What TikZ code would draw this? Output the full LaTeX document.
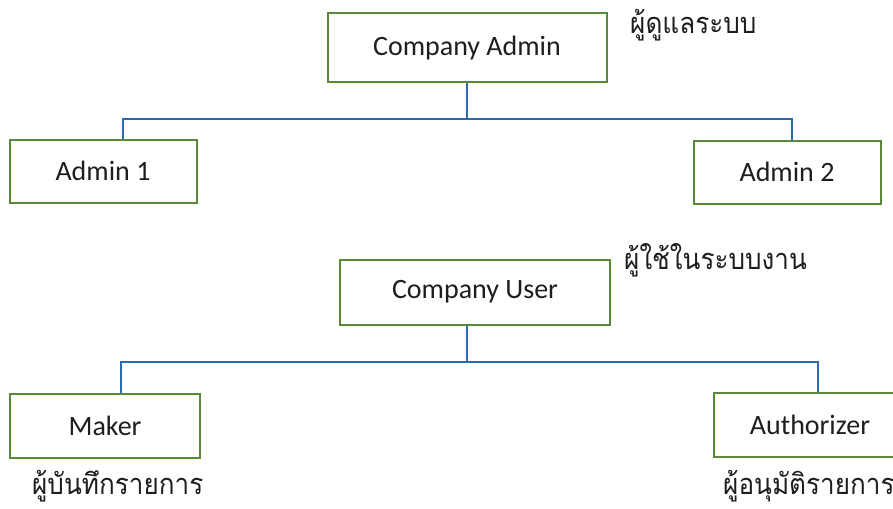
\documentclass[tikz,border=0pt]{standalone}
\usepackage{fontspec}
\setmainfont{Carlito}
\newfontfamily\thaifont[Script=Thai, FakeStretch=0.9]{Loma}
\usetikzlibrary{positioning}
\definecolor{boxgreen}{RGB}{88,138,58}
\definecolor{linkblue}{RGB}{45,105,175}
\definecolor{inkgray}{RGB}{30,30,30}

\begin{document}
\begin{tikzpicture}[x=1pt, y=-1pt,
  role/.style={rectangle, draw=boxgreen, line width=2pt, fill=white, inner sep=0pt, text=inkgray, font=\fontsize{28}{32}\selectfont},
  thai/.style={inner sep=0pt, anchor=base west, text=inkgray, font=\thaifont\fontsize{29}{33}\selectfont},
  conn/.style={draw=linkblue, line width=1.2pt}
]
\clip (0,0) rectangle (893,508);
\fill[white] (0,0) rectangle (893,508);

% admin group
\node[role, minimum width=279pt, minimum height=69pt] (cadmin) at (467,48) {Company Admin};
\node[role, minimum width=187pt, minimum height=63pt] (adm1) at (103,171) {Admin 1};
\node[role, minimum width=187pt, minimum height=63pt] (adm2) at (787,172) {Admin 2};
\node[thai] (tadmin) at (630,34) {ผู้ดูแลระบบ};

% user group
\node[role, minimum width=270pt, minimum height=65pt] (cuser) at (475,292) {Company User};
\node[role, minimum width=190pt, minimum height=64pt] (maker) at (105,426) {Maker};
\node[role, minimum width=192pt, minimum height=64pt] (auth) at (810,425) {Authorizer};
\node[thai] (tuser) at (624,269) {ผู้ใช้ในระบบงาน};
\node[thai] (tmaker) at (32,494) {ผู้บันทึกรายการ};
\node[thai] (tauth) at (723,494) {ผู้อนุมัติรายการ};

% tree lines
\coordinate (busA) at (467,119);
\coordinate (busU) at (467,362);
\draw[conn] (cadmin.south) -- (busA);
\draw[conn] (busA) -| ([xshift=20pt]adm1.north);
\draw[conn] (busA) -| ([xshift=5pt]adm2.north);
\draw[conn] (cuser.south -| busU) -- (busU);
\draw[conn] (busU) -| ([xshift=16pt]maker.north);
\draw[conn] (busU) -| ([xshift=8pt]auth.north);
\end{tikzpicture}
\end{document}
